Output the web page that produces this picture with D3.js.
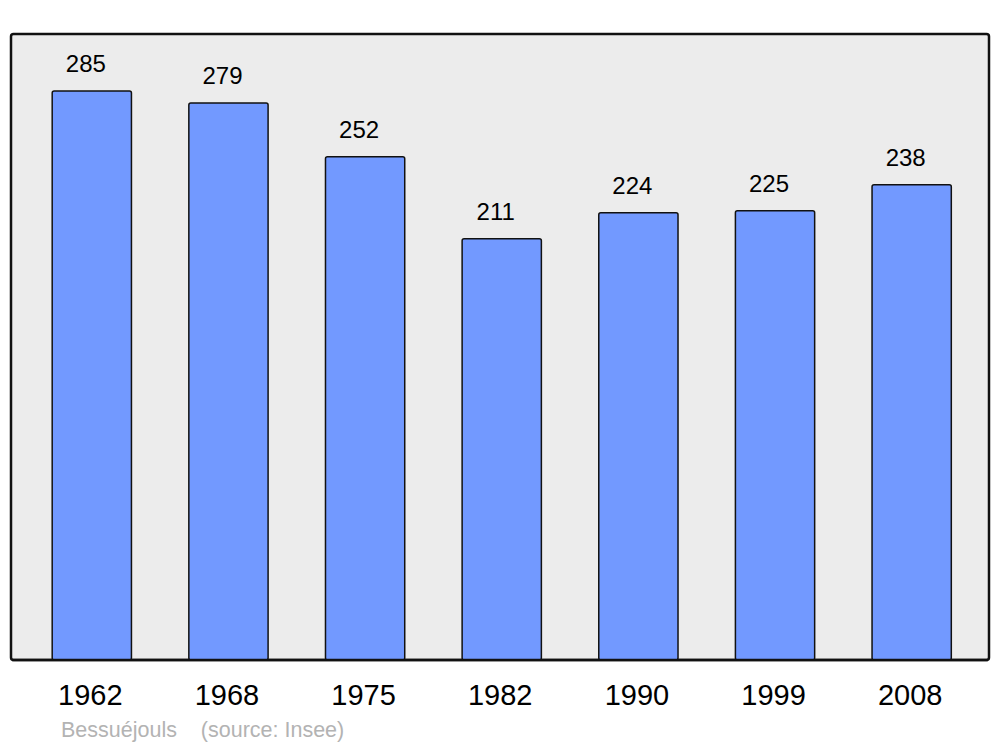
<!DOCTYPE html>
<html lang="fr">
<head>
<meta charset="utf-8">
<title>Bessuéjouls population</title>
<script src="https://d3js.org/d3.v7.min.js"></script>
<style>
  body { margin: 0; background: white; }
  text { font-family: 'Liberation Sans', Arial, sans-serif; }
  .frame { fill: #ececec; stroke: #111; stroke-width: 2.5; }
  .bar { fill: #7299ff; stroke: #111; stroke-width: 1.5; }
</style>
</head>
<body>
<div id="container"></div>
<script>
var years = ["1962", "1968", "1975", "1982", "1990", "1999", "2008"];
var population = [285, 279, 252, 211, 224, 225, 238];
var commune = "Bessuéjouls";
var source = "(source: Insee)";

var w = 1000, h = 747;
var plotTop = 34, plotBottom = 660, plotLeft = 11, plotRight = 989;

var svg = d3.select("#container").append("svg")
    .attr("width", w).attr("height", h);

var x = d3.scaleBand()
    .domain(years)
    .range([23.5, 980])
    .paddingInner(0.42)
    .paddingOuter(0.21);

var y = d3.scaleLinear()
    .domain([0, d3.max(population) * 1.1])
    .range([plotBottom, plotTop]);

// plot frame
svg.append("rect")
    .attr("class", "frame")
    .attr("x", plotLeft).attr("y", plotTop)
    .attr("width", plotRight - plotLeft).attr("height", plotBottom - plotTop)
    .attr("rx", 2.5);

var data = years.map(function(d, i) { return {year: d, value: population[i]}; });

// bars
svg.selectAll(".bar")
    .data(data)
    .enter()
    .append("rect")
    .attr("class", "bar")
    .attr("x", function(d) { return x(d.year); })
    .attr("y", function(d) { return y(d.value); })
    .attr("width", x.bandwidth())
    .attr("height", function(d) { return plotBottom - y(d.value); })
    .attr("rx", 2);

// redraw bottom edge of frame over the bars
svg.append("line")
    .attr("x1", plotLeft + 1).attr("x2", plotRight - 1)
    .attr("y1", plotBottom).attr("y2", plotBottom)
    .attr("stroke", "#111").attr("stroke-width", 2.5);

// value labels (sit a little left of the bar centre)
svg.selectAll(".val")
    .data(data)
    .enter()
    .append("text")
    .attr("class", "val")
    .attr("x", function(d) { return x(d.year) + x.bandwidth() / 2 - 6; })
    .attr("y", function(d) { return y(d.value) - 19; })
    .attr("text-anchor", "middle")
    .style("font-size", "24px")
    .text(function(d) { return d.value; });

// year labels
svg.selectAll(".yr")
    .data(years)
    .enter()
    .append("text")
    .attr("class", "yr")
    .attr("x", function(d) { return x(d) + x.bandwidth() / 2 - 1.5; })
    .attr("y", 705)
    .attr("text-anchor", "middle")
    .style("font-size", "29px")
    .text(function(d) { return d; });

// footer
svg.append("text")
    .attr("x", 61).attr("y", 737)
    .style("font-size", "21.5px")
    .style("fill", "#b3b3b3")
    .style("white-space", "pre")
    .text(commune + "    " + source);
</script>
</body>
</html>
